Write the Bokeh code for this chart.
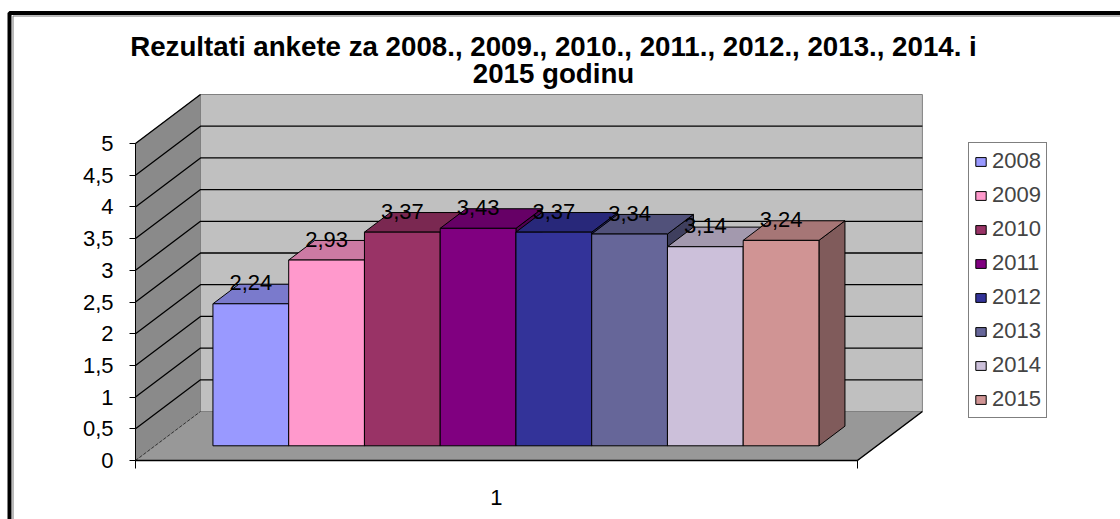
from bokeh.plotting import figure
from bokeh.models import Range1d, LinearAxis, FixedTicker, ColumnDataSource, Label
from bokeh.core.properties import value
from bokeh.embed import file_html
from bokeh.resources import INLINE

# ---------------- data ----------------
years = ["2008", "2009", "2010", "2011", "2012", "2013", "2014", "2015"]
scores = [2.24, 2.93, 3.37, 3.43, 3.37, 3.34, 3.14, 3.24]
score_labels = ["2,24", "2,93", "3,37", "3,43", "3,37", "3,34", "3,14", "3,24"]
bar_colors = ["#9999FF", "#FF99CC", "#993366", "#800080",
              "#333399", "#666699", "#CCC0DA", "#D09494"]
y_ticks = [0, 0.5, 1, 1.5, 2, 2.5, 3, 3.5, 4, 4.5, 5]
y_tick_labels = ["0", "0,5", "1", "1,5", "2", "2,5", "3", "3,5", "4", "4,5", "5"]
category_labels = ["1"]
title_lines = ["Rezultati ankete za 2008., 2009., 2010., 2011., 2012., 2013., 2014. i",
               "2015 godinu"]

# ---------------- layout (pixels -> data mapping) ----------------
W, H = 1120, 519
X0, Y0 = 135.0, 460.0          # screen px of front-axis origin
PXX, PXY = 75.75, 63.4         # px per category slot / per value unit
DX, DY = 65.0 / PXX, 49.0 / PXY  # full depth offset in data units
FLOOR_W = 9.53
GAP = 0.765
D_FRONT, D_BACK = 0.3, 0.7
WALL_TOP = 5
FONT = "Liberation Sans"
TXT = "22px"


def sx(px):
    return (px - X0) / PXX


def sy(py):
    return (Y0 - py) / PXY


def P(x, v, d):
    return x + d * DX, v + d * DY


def shade(hex_color, f):
    h = hex_color.lstrip("#")
    r, g, b = (int(h[i:i + 2], 16) for i in (0, 2, 4))
    return "#%02X%02X%02X" % (int(r * f), int(g * f), int(b * f))


def poly(points):
    return [pt[0] for pt in points], [pt[1] for pt in points]


p = figure(width=W, height=H,
           x_range=Range1d(sx(0), sx(W)), y_range=Range1d(sy(H), sy(0)),
           x_axis_type=None, y_axis_type=None,
           toolbar_location=None, output_backend="svg",
           min_border=0, outline_line_color=None)
p.background_fill_color = "white"
p.border_fill_color = "white"

# ---------------- walls & floor ----------------
bx, by = poly([P(0, 0, 1), P(FLOOR_W, 0, 1), P(FLOOR_W, WALL_TOP, 1), P(0, WALL_TOP, 1)])
p.patch(bx, by, fill_color="#C0C0C0", line_color="#808080", line_width=1)

lx, ly = poly([P(0, 0, 0), P(0, 0, 1), P(0, WALL_TOP, 1), P(0, WALL_TOP, 0)])
p.patch(lx, ly, fill_color="#8A8A8A", line_color="#808080", line_width=1)

fx, fy = poly([P(0, 0, 0), P(FLOOR_W, 0, 0), P(FLOOR_W, 0, 1), P(0, 0, 1)])
p.patch(fx, fy, fill_color="#989898", line_color="#808080", line_width=1)

# gridlines (side wall diagonal + back wall horizontal)
gxs, gys = [], []
for v in y_ticks[1:-1]:
    gx, gy = poly([P(0, v, 0), P(0, v, 1), P(FLOOR_W, v, 1)])
    gxs.append(gx)
    gys.append(gy)
tx, ty = poly([P(0, WALL_TOP, 0), P(0, WALL_TOP, 1)])
gxs.append(tx)
gys.append(ty)
p.multi_line(gxs, gys, line_color="black", line_width=1.3)

zx, zy = poly([P(0, 0, 0), P(0, 0, 1)])
p.line(zx, zy, line_color="#333333", line_width=1, line_dash="3 2")

rx, ry = poly([P(FLOOR_W, 0, 0), P(FLOOR_W, 0, 1)])
p.line(rx, ry, line_color="black", line_width=1.5)

# ---------------- bars ----------------
side_xs, side_ys, top_xs, top_ys = [], [], [], []
lefts, rights, bottoms, tops, cxs = [], [], [], [], []
for i, v in enumerate(scores):
    xl = GAP + i
    xr = xl + 1
    a, b = poly([P(xr, 0, D_FRONT), P(xr, 0, D_BACK), P(xr, v, D_BACK), P(xr, v, D_FRONT)])
    side_xs.append(a)
    side_ys.append(b)
    a, b = poly([P(xl, v, D_FRONT), P(xr, v, D_FRONT), P(xr, v, D_BACK), P(xl, v, D_BACK)])
    top_xs.append(a)
    top_ys.append(b)
    l, bt = P(xl, 0, D_FRONT)
    r, tp = P(xr, v, D_FRONT)
    lefts.append(l)
    rights.append(r)
    bottoms.append(bt)
    tops.append(tp)
    cxs.append((l + r) / 2)

src = ColumnDataSource(dict(
    year=years, score=scores, label=score_labels, color=bar_colors,
    top_color=[shade(c, 0.8) for c in bar_colors],
    side_color=[shade(c, 0.62) for c in bar_colors],
    side_xs=side_xs, side_ys=side_ys, top_xs=top_xs, top_ys=top_ys,
    left=lefts, right=rights, bottom=bottoms, top=tops, cx=cxs,
))

p.patches("side_xs", "side_ys", source=src, fill_color="side_color",
          line_color="black", line_width=1)
p.patches("top_xs", "top_ys", source=src, fill_color="top_color",
          line_color="black", line_width=1)
p.quad(left="left", right="right", bottom="bottom", top="top", source=src,
       fill_color="color", line_color="black", line_width=1, legend_field="year")

p.text(x="cx", y="top", text="label", source=src, text_align="center",
       text_baseline="middle", y_offset=-21, text_color="black",
       text_font=value(FONT), text_font_size=value(TXT))

# ---------------- axes ----------------
yaxis = LinearAxis(fixed_location=0, bounds=(0, WALL_TOP),
                   ticker=FixedTicker(ticks=y_ticks),
                   major_label_overrides={float(t): s for t, s in zip(y_ticks, y_tick_labels)},
                   major_tick_out=6, major_tick_in=0,
                   minor_tick_out=0, minor_tick_in=0,
                   axis_line_color="black", axis_line_width=1,
                   major_tick_line_color="black",
                   major_label_standoff=16,
                   major_label_text_font=FONT,
                   major_label_text_font_size=TXT,
                   major_label_text_color="black")
p.add_layout(yaxis, "left")

mid = FLOOR_W / 2
xaxis = LinearAxis(fixed_location=0, bounds=(0, FLOOR_W),
                   ticker=FixedTicker(ticks=[mid], minor_ticks=[0, FLOOR_W]),
                   major_label_overrides={float(mid): category_labels[0]},
                   major_tick_out=0, major_tick_in=0,
                   minor_tick_out=8, minor_tick_in=0,
                   minor_tick_line_color="black",
                   axis_line_color="black", axis_line_width=1.5,
                   major_label_standoff=21,
                   major_label_text_font=FONT,
                   major_label_text_font_size=TXT,
                   major_label_text_color="black")
p.add_layout(xaxis, "below")

# ---------------- legend ----------------
lg = p.legend[0]
lg.location = (968, 101)
lg.border_line_color = "black"
lg.border_line_width = 1
lg.background_fill_color = "white"
lg.background_fill_alpha = 1
lg.label_text_font = FONT
lg.label_text_font_size = TXT
lg.glyph_width = 13
lg.glyph_height = 11
lg.padding = 5
lg.spacing = 8
lg.label_standoff = 5
lg.margin = 0

# ---------------- title ----------------
p.add_layout(Label(x=sx(553), y=sy(46), text=title_lines[0], text_align="center",
                   text_baseline="alphabetic", text_font=FONT, text_font_style="bold",
                   text_font_size="27.7px", text_color="black"))
p.add_layout(Label(x=sx(553), y=sy(73), text=title_lines[1], text_align="center",
                   text_baseline="alphabetic", text_font=FONT, text_font_style="bold",
                   text_font_size="27.7px", text_color="black"))

# ---------------- outer border ----------------
p.line([sx(9), sx(9), sx(W + 10)], [sy(H + 10), sy(12.5), sy(12.5)],
       line_color="black", line_width=4)
p.line([sx(12.5), sx(12.5), sx(W + 10)], [sy(H + 10), sy(15.5), sy(15.5)],
       line_color="#777777", line_width=1)

open("out.html", "w").write(file_html(p, INLINE))
